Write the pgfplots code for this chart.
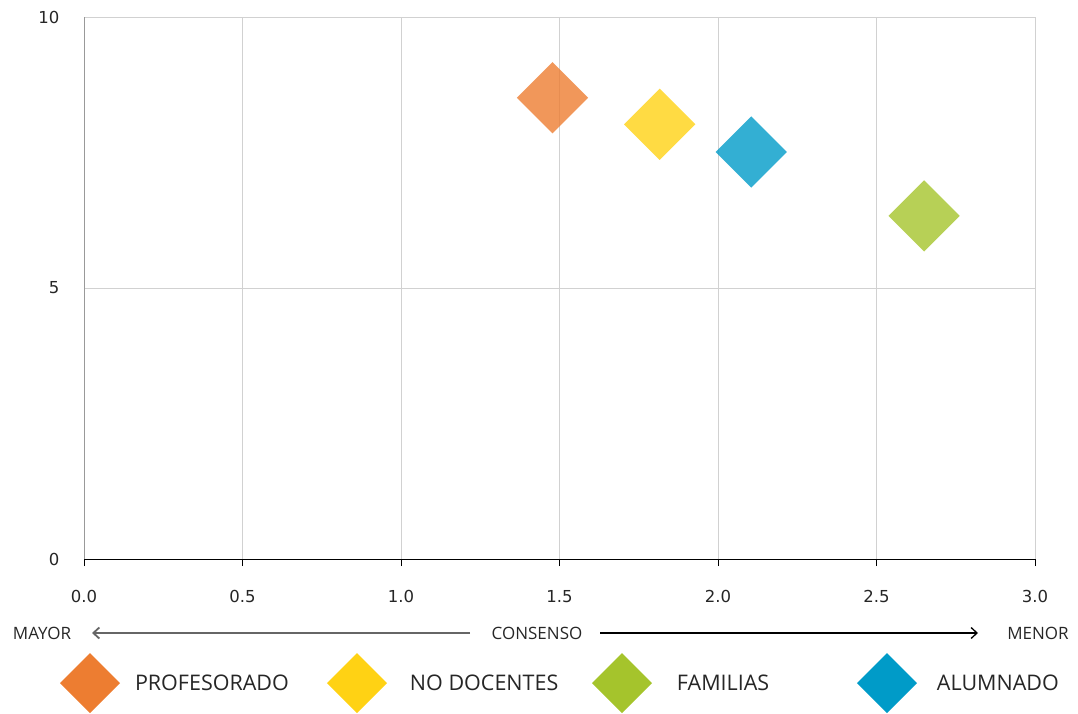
\documentclass[border=0pt]{standalone}
\usepackage{fontspec}
\setmainfont{Open Sans}
\newfontfamily\dejavu{DejaVu Sans}
\usepackage{pgfplots}
\pgfplotsset{compat=1.18}
\usetikzlibrary{arrows.meta}
\definecolor{cOr}{RGB}{237,125,49}
\definecolor{cYe}{RGB}{255,210,20}
\definecolor{cGr}{RGB}{165,196,44}
\definecolor{cBl}{RGB}{0,155,200}
\begin{document}
\begin{tikzpicture}
\begin{axis}[
  width=951bp, height=542bp, scale only axis,
  xmin=0, xmax=3, ymin=0, ymax=10,
  xtick={0,0.5,1,1.5,2,2.5,3}, ytick={0,5,10},
  grid=major,
  major grid style={color=black!18, line width=0.9bp},
  axis x line=bottom, axis y line=left,
  axis line style={-},
  x axis line style={black, line width=1bp},
  y axis line style={black!40, line width=1bp},
  tick align=outside,
  major tick length=7bp,
  xtick style={black, line width=1bp},
  ytick style={draw=none},
  ticklabel style={font=\dejavu\fontsize{16.5bp}{19bp}\selectfont, text=black!85},
  /pgf/number format/assume math mode=true,
  xticklabel style={/pgf/number format/.cd, fixed, fixed zerofill, precision=1, /tikz/.cd, yshift=-21bp},
  yticklabel style={xshift=-14bp},
  legend columns=4,
  legend style={at={(rel axis cs:0,0)}, anchor=west, xshift=-24bp, yshift=-124bp,
    draw=none, fill=none, inner sep=0pt, outer sep=0pt, column sep=0pt,
    nodes={inner sep=0pt, font=\fontsize{21.5bp}{25bp}\selectfont, text=black!85}},
  legend cell align=left,
]
\addplot[cOr, draw=none, only marks, mark=square*, mark size=25.2bp, mark options={rotate=45, draw opacity=0, fill=cOr, fill opacity=0.8},
  legend image code/.code={\fill[cOr] (0bp,0bp) -- (30bp,30bp) -- (60bp,0bp) -- (30bp,-30bp) -- cycle; \path (75bp,0bp);}]
  coordinates {(1.478,8.51)};
\addlegendentry{\makebox[192bp][l]{PROFESORADO}}
\addplot[cYe, draw=none, only marks, mark=square*, mark size=25.2bp, mark options={rotate=45, draw opacity=0, fill=cYe, fill opacity=0.8},
  legend image code/.code={\fill[cYe] (0bp,0bp) -- (30bp,30bp) -- (60bp,0bp) -- (30bp,-30bp) -- cycle; \path (83bp,0bp);}]
  coordinates {(1.816,8.02)};
\addlegendentry{\makebox[182bp][l]{NO DOCENTES}}
\addplot[cGr, draw=none, only marks, mark=square*, mark size=25.2bp, mark options={rotate=45, draw opacity=0, fill=cGr, fill opacity=0.8},
  legend image code/.code={\fill[cGr] (0bp,0bp) -- (30bp,30bp) -- (60bp,0bp) -- (30bp,-30bp) -- cycle; \path (85bp,0bp);}]
  coordinates {(2.65,6.33)};
\addlegendentry{\makebox[180bp][l]{FAMILIAS}}
\addplot[cBl, draw=none, only marks, mark=square*, mark size=25.2bp, mark options={rotate=45, draw opacity=0, fill=cBl, fill opacity=0.8},
  legend image code/.code={\fill[cBl] (0bp,0bp) -- (30bp,30bp) -- (60bp,0bp) -- (30bp,-30bp) -- cycle; \path (80bp,0bp);}]
  coordinates {(2.105,7.51)};
\addlegendentry{ALUMNADO}
\end{axis}
% consensus arrow row
\node[font=\fontsize{17bp}{20bp}\selectfont, text=black!85] at (-42bp,-74bp) {MAYOR};
\node[font=\fontsize{17bp}{20bp}\selectfont, text=black!85] at (453bp,-74bp) {CONSENSO};
\node[font=\fontsize{17bp}{20bp}\selectfont, text=black!85] at (954bp,-74bp) {MENOR};
\draw[black!60, line width=1.8bp, -{Straight Barb[length=6bp,width=11bp]}] (386bp,-74bp) -- (8bp,-74bp);
\draw[black, line width=1.3bp, -{Straight Barb[length=6bp,width=11bp]}] (516bp,-74bp) -- (894bp,-74bp);
\pgfresetboundingbox
\path (-84bp,-155bp) rectangle (994bp,542bp+17bp);
\end{tikzpicture}
\end{document}
